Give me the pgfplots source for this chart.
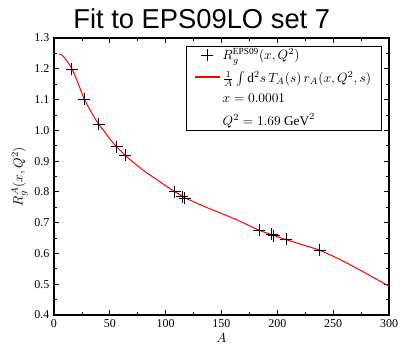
\documentclass[border=0pt]{standalone}
\usepackage{fontspec}
\setmainfont{Liberation Serif}
\newfontfamily\titlefont{Liberation Sans}
\usepackage{pgfplots}
\pgfplotsset{compat=1.18}
\begin{document}
\begin{tikzpicture}
\path[use as bounding box] (-40.5pt,-23.25pt) rectangle (259.5pt,236.25pt);
\begin{axis}[
  at={(0,0)}, anchor=south west,
  scale only axis,
  width=251.25pt, height=207.75pt,
  xmin=0, xmax=300, ymin=0.4, ymax=1.3,
  xtick={0,50,...,300},
  ytick={0.4,0.5,...,1.3},
  minor x tick num=1, minor y tick num=1,
  tick align=inside,
  major tick length=3.5pt, minor tick length=2pt,
  axis line style={line width=0.8pt},
  every tick/.style={black, line width=0.6pt},
  /pgf/number format/assume math mode=true,
  yticklabel style={/pgf/number format/fixed, /pgf/number format/fixed zerofill, /pgf/number format/precision=1, font=\fontsize{9}{10}\selectfont},
  xticklabel style={font=\fontsize{9}{10}\selectfont},
  xlabel={$A$},
  ylabel={$R_g^A(x,Q^2)$},
  xlabel style={yshift=3pt},
  ylabel style={yshift=-2pt},
  legend cell align=left,
  legend style={at={(rel axis cs:0.979,0.972)}, anchor=north east, font=\fontsize{10}{12}\selectfont, row sep=3pt, inner xsep=6pt, inner ysep=0pt},
  clip=false,
]
\addplot[red, line width=0.75pt, smooth, tension=0.5, forget plot] coordinates {
(4.5,1.248) (6,1.247) (8,1.242) (10,1.233) (13,1.218) (16,1.200) (20,1.167)
(24,1.130) (27,1.102) (32,1.068) (36,1.043) (40,1.020) (45,0.997) (50,0.972)
(56,0.947) (60,0.932) (64,0.918) (70,0.899) (80,0.870) (90,0.845) (100,0.820)
(108,0.801) (115,0.786) (117,0.781) (125,0.768) (135,0.752) (150,0.730)
(165,0.707) (175,0.690) (184,0.675) (190,0.667) (195,0.661) (197,0.658)
(208,0.645) (220,0.631) (230,0.620) (238,0.610) (250,0.591) (260,0.573)
(271,0.552) (285,0.524) (300,0.494)
};
\addplot[only marks, mark=+, mark size=4.5pt, black, mark options={line width=0.75pt},
  legend image code/.code={\draw[black, line width=0.75pt] plot[mark=+, mark size=4.5pt] coordinates {(9.5pt,0pt)};}] coordinates {
(16,1.199) (27,1.101) (40,1.020) (56,0.947) (64,0.919) (108,0.800)
(115,0.785) (117,0.779) (184,0.675) (195,0.662) (197,0.657) (208,0.646) (238,0.610)
};
\addlegendentry{$R_g^{\mathrm{EPS09}}(x,Q^2)$}
\addlegendimage{legend image code/.code={\node[inner sep=0pt, anchor=west] at (0pt,0pt) {\textcolor{red}{\rule[-0.4pt]{19pt}{0.8pt}}};}}
\addlegendentry{$\frac{1}{A}\int \mathrm{d}^2 s\, T_A(s)\, r_A(x,Q^2,s)$}
\addlegendimage{empty legend}
\addlegendentry{$x=0.0001$}
\addlegendimage{empty legend}
\addlegendentry{$Q^2=1.69\ \mathrm{GeV}^2$}
\node[anchor=base, font=\titlefont\fontsize{20.5}{24}\selectfont] at (rel axis cs:0.441,1) [yshift=7.5pt] {Fit to EPS09LO set 7};
\end{axis}
\end{tikzpicture}
\end{document}
